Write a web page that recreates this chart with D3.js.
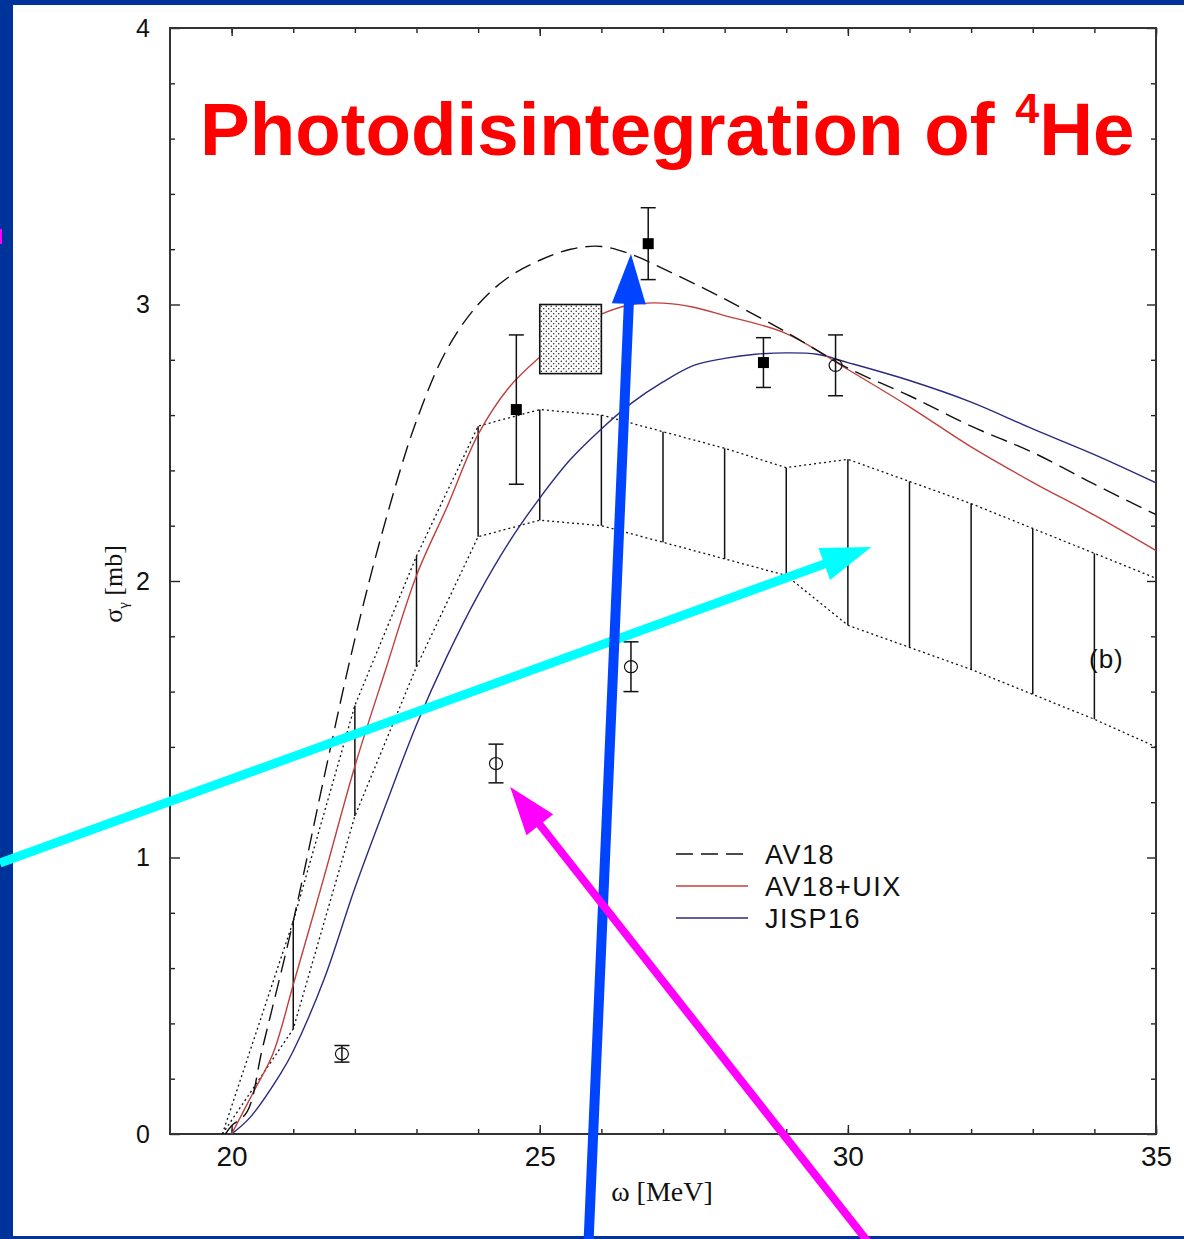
<!DOCTYPE html>
<html>
<head>
<meta charset="utf-8">
<script src="https://cdn.jsdelivr.net/npm/d3@7"></script>
<style>
  html, body { margin: 0; padding: 0; background: #003399; }
  svg { display: block; }
</style>
</head>
<body>
<svg id="chart" width="1184" height="1239"></svg>
<script>
// ---- Axis ticks ----
const xMajorTicks = [20, 25, 30, 35];
const xMinorTicks = [20, 21, 22, 23, 24, 25, 26, 27, 28, 29, 30, 31, 32, 33, 34, 35];
const yMajorTicks = [0, 1, 2, 3, 4];
const yMinorTicks = [0.2, 0.4, 0.6, 0.8, 1.2, 1.4, 1.6, 1.8, 2.2, 2.4, 2.6, 2.8, 3.2, 3.4, 3.6, 3.8];

// ---- AV18 (dashed) ----
const av18Omega = [19.9, 20.0, 20.25, 20.5, 21.0, 21.5, 22.0, 22.5, 23.0, 23.5, 24.0, 24.5, 25.0, 25.5, 26.0, 26.5, 27.0, 28.0, 29.0, 30.0, 31.0, 32.0, 33.0, 34.0, 35.0];
const av18Sigma = [0.0, 0.03, 0.08, 0.31, 0.77, 1.29, 1.79, 2.22, 2.58, 2.84, 3.00, 3.10, 3.16, 3.20, 3.21, 3.18, 3.13, 3.02, 2.90, 2.77, 2.67, 2.56, 2.465, 2.35, 2.24];

// ---- AV18+UIX (red) ----
const uixOmega = [20.0, 20.35, 20.67, 21.0, 21.5, 22.0, 22.5, 23.0, 23.5, 24.0, 24.5, 25.0, 25.5, 26.0, 26.5, 27.0, 27.5, 28.0, 29.0, 30.0, 31.0, 32.0, 33.0, 34.0, 35.0];
const uixSigma = [0.0, 0.15, 0.29, 0.54, 0.93, 1.33, 1.68, 2.02, 2.27, 2.53, 2.70, 2.81, 2.90, 2.965, 3.0, 3.005, 2.99, 2.96, 2.895, 2.765, 2.63, 2.485, 2.357, 2.238, 2.11];

// ---- JISP16 (navy) ----
const jispOmega = [20.0, 20.3, 20.8, 21.0, 21.5, 22.0, 22.5, 23.0, 23.5, 24.0, 24.5, 25.0, 25.5, 26.0, 26.5, 27.0, 27.5, 28.0, 28.5, 29.0, 29.5, 30.0, 31.0, 32.0, 33.0, 34.0, 35.0];
const jispSigma = [0.0, 0.06, 0.22, 0.30, 0.56, 0.89, 1.19, 1.48, 1.73, 1.95, 2.14, 2.30, 2.44, 2.55, 2.645, 2.72, 2.78, 2.805, 2.82, 2.825, 2.82, 2.79, 2.725, 2.647, 2.55, 2.457, 2.355];

// ---- Hatched band (dotted bounds, vertical bars) ----
const bandOmega = [19.85, 21, 22, 23, 24, 25, 26, 27, 28, 29, 30, 31, 32, 33, 34, 35];
const bandUpper = [0.0, 0.77, 1.55, 2.09, 2.56, 2.62, 2.60, 2.54, 2.48, 2.41, 2.44, 2.36, 2.28, 2.19, 2.10, 2.01];
const bandLower = [0.0, 0.38, 1.15, 1.69, 2.16, 2.22, 2.20, 2.14, 2.08, 2.02, 1.84, 1.76, 1.68, 1.59, 1.50, 1.40];
const bandBarOmega = [21, 22, 23, 24, 25, 26, 27, 28, 29, 30, 31, 32, 33, 34];

// ---- Measurements: filled squares ----
const filledOmega = [24.62, 26.76, 28.63];
const filledSigma = [2.62, 3.22, 2.79];
const filledErr = [0.27, 0.13, 0.09];

// ---- Measurements: open circles ----
const openOmega = [21.79, 24.29, 26.48, 29.8];
const openSigma = [0.29, 1.34, 1.69, 2.78];
const openErr = [0.03, 0.07, 0.09, 0.11];

// ---- Stippled box (omega range, sigma range) ----
const boxOmega = [25.0, 26.0];
const boxSigma = [2.75, 3.0];

// ---- Legend ----
const legendLabels = ["AV18", "AV18+UIX", "JISP16"];

// ---- Pointer arrows [tailOmega, tailSigma, tipOmega, tipSigma] ----
const arrowCyan = [16.24, 0.98, 30.38, 2.123];
const arrowBlue = [25.79, -0.40, 26.48, 3.183];
const arrowMagenta = [30.36, -0.40, 24.52, 1.255];

const svg = d3.select("#chart");
const W = 1184, H = 1239;

// slide background
svg.append("rect").attr("width", W).attr("height", H).attr("fill", "#003399");
svg.append("rect").attr("x", 13).attr("y", 5).attr("width", W - 13).attr("height", 1231).attr("fill", "#ffffff");

const x = d3.scaleLinear().domain([19, 35]).range([170, 1156]);
const y = d3.scaleLinear().domain([0, 4]).range([1134, 28]);

const defs = svg.append("defs");
defs.append("clipPath").attr("id", "plotClip")
  .append("rect").attr("x", 170).attr("y", 28).attr("width", 986).attr("height", 1106);

const pat = defs.append("pattern").attr("id", "stipple")
  .attr("patternUnits", "userSpaceOnUse").attr("width", 5).attr("height", 5);
pat.append("rect").attr("width", 5).attr("height", 5).attr("fill", "#fff");
pat.append("circle").attr("cx", 1.25).attr("cy", 1.25).attr("r", 0.75).attr("fill", "#222");
pat.append("circle").attr("cx", 3.75).attr("cy", 3.75).attr("r", 0.75).attr("fill", "#222");

// ---- Axes ----
function styleTicks(g) {
  g.select(".domain").remove();
  g.selectAll(".tick line").attr("stroke", "#222").attr("stroke-width", 1.4);
}
const tickFont = "'Liberation Sans', Arial, Helvetica, sans-serif";

svg.append("g").attr("transform", `translate(0,${y(0)})`)
  .call(d3.axisBottom(x).tickValues(xMinorTicks).tickSize(-5).tickFormat(""))
  .call(styleTicks);
svg.append("g").attr("transform", `translate(0,${y(0)})`)
  .call(d3.axisBottom(x).tickValues(xMajorTicks).tickSize(-9).tickPadding(12).tickFormat(d3.format("d")))
  .call(styleTicks)
  .call(g => g.selectAll("text").attr("font-family", tickFont).attr("font-size", 28).attr("fill", "#111"));

svg.append("g").attr("transform", `translate(0,${y(4)})`)
  .call(d3.axisTop(x).tickValues(xMinorTicks).tickSize(-5).tickFormat(""))
  .call(styleTicks);
svg.append("g").attr("transform", `translate(0,${y(4)})`)
  .call(d3.axisTop(x).tickValues(xMajorTicks).tickSize(-8).tickFormat(""))
  .call(styleTicks);

svg.append("g").attr("transform", `translate(${x(19)},0)`)
  .call(d3.axisLeft(y).tickValues(yMinorTicks).tickSize(-5).tickFormat(""))
  .call(styleTicks);
svg.append("g").attr("transform", `translate(${x(19)},0)`)
  .call(d3.axisLeft(y).tickValues(yMajorTicks).tickSize(-10).tickPadding(20).tickFormat(d3.format("d")))
  .call(styleTicks)
  .call(g => g.selectAll("text").attr("font-family", tickFont).attr("font-size", 25).attr("fill", "#111"));

svg.append("g").attr("transform", `translate(${x(35)},0)`)
  .call(d3.axisRight(y).tickValues(yMinorTicks).tickSize(-5).tickFormat(""))
  .call(styleTicks);
svg.append("g").attr("transform", `translate(${x(35)},0)`)
  .call(d3.axisRight(y).tickValues(yMajorTicks).tickSize(-9).tickFormat(""))
  .call(styleTicks);

// frame
svg.append("rect").attr("x", x(19)).attr("y", y(4))
  .attr("width", x(35) - x(19)).attr("height", y(0) - y(4))
  .attr("fill", "none").attr("stroke", "#333").attr("stroke-width", 2);

// axis titles
const serif = "'Liberation Serif', 'DejaVu Serif', 'Times New Roman', serif";
svg.append("text").attr("x", 662).attr("y", 1201).attr("text-anchor", "middle")
  .attr("font-family", serif).attr("font-size", 28).attr("fill", "#111")
  .text("ω [MeV]");
const yTitle = svg.append("text").attr("transform", "translate(122,584) rotate(-90)")
  .attr("text-anchor", "middle").attr("font-family", serif).attr("font-size", 26).attr("fill", "#111");
yTitle.append("tspan").text("σ");
yTitle.append("tspan").attr("font-size", 15).attr("dy", 6).text("γ");
yTitle.append("tspan").attr("dy", -6).text(" [mb]");

// ---- Plot contents ----
const plot = svg.append("g").attr("clip-path", "url(#plotClip)");

const zip = (a, b) => a.map((v, i) => [v, b[i]]);
const lineLin = d3.line().x(d => x(d[0])).y(d => y(d[1]));
const lineSmooth = d3.line().x(d => x(d[0])).y(d => y(d[1])).curve(d3.curveCatmullRom.alpha(0.5));

// band bounds
plot.append("path").attr("d", lineLin(zip(bandOmega, bandUpper)))
  .attr("fill", "none").attr("stroke", "#111").attr("stroke-width", 1.3).attr("stroke-dasharray", "2,3");
plot.append("path").attr("d", lineLin(zip(bandOmega, bandLower)))
  .attr("fill", "none").attr("stroke", "#111").attr("stroke-width", 1.3).attr("stroke-dasharray", "2,3");
// band vertical bars
plot.selectAll(".bandbar").data(bandBarOmega).enter().append("line")
  .attr("x1", d => x(d)).attr("x2", d => x(d))
  .attr("y1", d => y(bandUpper[bandOmega.indexOf(d)]))
  .attr("y2", d => y(bandLower[bandOmega.indexOf(d)]))
  .attr("stroke", "#111").attr("stroke-width", 1.5);

// theory curves
plot.append("path").attr("d", lineSmooth(zip(jispOmega, jispSigma)))
  .attr("fill", "none").attr("stroke", "#2a2a80").attr("stroke-width", 1.4);
plot.append("path").attr("d", lineSmooth(zip(uixOmega, uixSigma)))
  .attr("fill", "none").attr("stroke", "#c0403c").attr("stroke-width", 1.4);
plot.append("path").attr("d", lineSmooth(zip(av18Omega, av18Sigma)))
  .attr("fill", "none").attr("stroke", "#111").attr("stroke-width", 1.4).attr("stroke-dasharray", "17,8");

// stippled box
plot.append("rect").attr("x", x(boxOmega[0])).attr("y", y(boxSigma[1]))
  .attr("width", x(boxOmega[1]) - x(boxOmega[0])).attr("height", y(boxSigma[0]) - y(boxSigma[1]))
  .attr("fill", "url(#stipple)").attr("stroke", "#111").attr("stroke-width", 1.6);

// error bars
function errorBars(om, sg, er, cap) {
  const g = plot.append("g").attr("stroke", "#111").attr("stroke-width", 1.5);
  om.forEach((o, i) => {
    const cx = x(o), t = y(sg[i] + er[i]), b = y(sg[i] - er[i]);
    g.append("line").attr("x1", cx).attr("x2", cx).attr("y1", t).attr("y2", b);
    g.append("line").attr("x1", cx - cap).attr("x2", cx + cap).attr("y1", t).attr("y2", t);
    g.append("line").attr("x1", cx - cap).attr("x2", cx + cap).attr("y1", b).attr("y2", b);
  });
}
errorBars(filledOmega, filledSigma, filledErr, 7.5);
errorBars(openOmega, openSigma, openErr, 7.5);

plot.selectAll(".filled").data(filledOmega).enter().append("rect")
  .attr("x", d => x(d) - 5.5).attr("y", (d, i) => y(filledSigma[i]) - 5.5)
  .attr("width", 11).attr("height", 11).attr("fill", "#000");
plot.selectAll(".open").data(openOmega).enter().append("ellipse")
  .attr("cx", d => x(d)).attr("cy", (d, i) => y(openSigma[i]))
  .attr("rx", 6.5).attr("ry", 6).attr("fill", "none").attr("stroke", "#111").attr("stroke-width", 1.2);

// panel label
svg.append("text").attr("x", 1089).attr("y", 668)
  .attr("font-family", tickFont).attr("font-size", 26).attr("letter-spacing", 1).attr("fill", "#111").text("(b)");

// ---- Legend ----
const legendY = [854, 886, 918];
const legendStyles = [
  { stroke: "#111", dash: "17,8" },
  { stroke: "#c0403c", dash: null },
  { stroke: "#2a2a80", dash: null }
];
legendLabels.forEach((lab, i) => {
  svg.append("line").attr("x1", 676).attr("x2", 748).attr("y1", legendY[i]).attr("y2", legendY[i])
    .attr("stroke", legendStyles[i].stroke).attr("stroke-width", 1.4)
    .attr("stroke-dasharray", legendStyles[i].dash);
  svg.append("text").attr("x", 765).attr("y", legendY[i]).attr("dy", "0.36em")
    .attr("font-family", tickFont).attr("font-size", 27).attr("letter-spacing", 1.5)
    .attr("fill", "#111").text(lab);
});

// ---- Title ----
const title = svg.append("text").attr("x", 200).attr("y", 155)
  .attr("font-family", tickFont).attr("font-weight", "bold").attr("font-size", 74.5).attr("fill", "#ff0000");
title.append("tspan").text("Photodisintegration of ");
title.append("tspan").attr("font-size", 43).attr("dy", -32).text("4");
title.append("tspan").attr("dy", 32).text("He");

// ---- Pointer arrows ----
function arrow(a, color, width, headLen, headHalf) {
  const x0 = x(a[0]), y0 = y(a[1]), x1 = x(a[2]), y1 = y(a[3]);
  const dx = x1 - x0, dy = y1 - y0, len = Math.hypot(dx, dy);
  const ux = dx / len, uy = dy / len;
  const bx = x1 - ux * headLen, by = y1 - uy * headLen;
  svg.append("line").attr("x1", x0).attr("y1", y0).attr("x2", bx + ux * 2).attr("y2", by + uy * 2)
    .attr("stroke", color).attr("stroke-width", width);
  svg.append("polygon")
    .attr("points", [[x1, y1], [bx - uy * headHalf, by + ux * headHalf], [bx + uy * headHalf, by - ux * headHalf]].map(p => p.join(",")).join(" "))
    .attr("fill", color);
}
arrow(arrowCyan, "#00ffff", 9, 50, 17);
arrow(arrowBlue, "#0044ff", 10, 50, 17);
arrow(arrowMagenta, "#ff00ff", 8, 48, 17);

// small magenta fragment at the slide edge
svg.append("rect").attr("x", 0).attr("y", 229).attr("width", 2).attr("height", 15).attr("fill", "#ff00ff");
</script>
</body>
</html>
